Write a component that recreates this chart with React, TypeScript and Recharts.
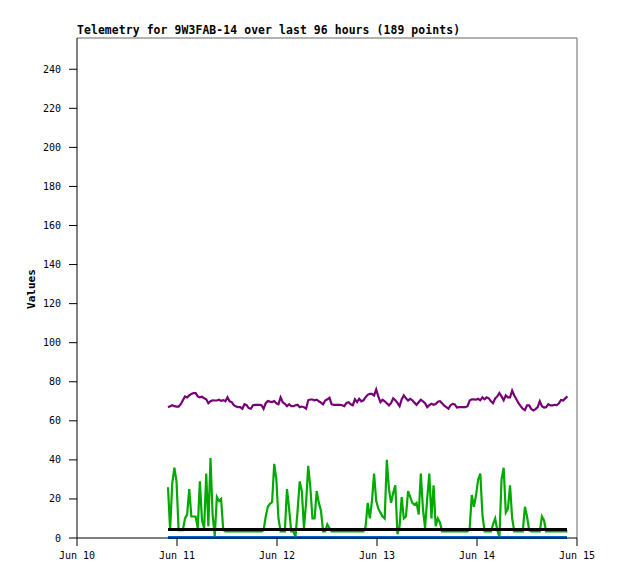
import React from 'react';
import { LineChart, Line, XAxis, YAxis, ReferenceLine } from 'recharts';

// time axis, in days after Jun 10 00:00
const dayTicks = [0, 1, 2, 3, 4, 5];
const dayLabels = ['Jun 10', 'Jun 11', 'Jun 12', 'Jun 13', 'Jun 14', 'Jun 15'];
const valueTicks = [0, 20, 40, 60, 80, 100, 120, 140, 160, 180, 200, 220, 240];
const firstSample = 0.91;
const lastSample = 4.904;

const purpleValues = [
  67.0, 67.5, 68.0, 67.5, 67.3, 67.3, 68.5, 70.5, 72.5, 72.0,
  73.0, 73.8, 74.2, 74.2, 72.5, 72.0, 72.3, 71.5, 71.0, 69.0,
  70.0, 70.5, 70.4, 70.4, 70.8, 70.2, 70.6, 70.0, 72.0, 70.0,
  69.6, 68.0, 67.3, 67.0, 67.0, 66.2, 68.5, 68.0, 66.5, 66.2,
  68.0, 68.2, 68.2, 68.2, 68.0, 66.2, 69.0, 70.1, 69.8, 69.6,
  70.1, 69.0, 68.5, 72.0, 69.5, 68.7, 67.5, 68.5, 67.5, 67.5,
  68.0, 68.2, 67.0,
  67.3, 67.0, 66.2, 70.5, 70.9, 70.9, 70.5, 70.8, 70.0, 69.3,
  68.4, 70.4, 71.0, 71.8, 68.5, 68.2, 68.2, 68.2, 68.2, 68.0,
  67.5, 69.2, 69.5, 68.5, 68.0, 71.0, 69.6, 71.3, 70.0, 70.5,
  72.1, 73.3, 73.8, 73.8, 73.0, 76.0, 72.5, 69.6, 70.8, 70.0,
  69.0, 67.9, 69.0, 71.5, 70.5, 69.2, 67.5, 71.0, 73.0, 71.5,
  70.4, 71.2, 70.5, 69.3, 68.2, 69.5, 70.8, 70.0, 69.0, 67.0,
  68.0, 68.7, 68.2,
  68.6, 69.8, 70.0, 69.0, 67.8, 67.0, 66.2, 68.0, 68.7, 68.4,
  66.8, 67.0, 67.0, 67.0, 67.0, 67.5, 70.4, 71.0, 71.0, 70.8,
  71.3, 70.5, 72.0, 71.0, 72.0, 71.5, 70.0, 69.0, 71.5, 72.5,
  74.2, 72.5, 70.5, 73.0, 72.0, 72.0, 75.5, 73.0, 71.0, 69.0,
  67.5, 66.2, 65.5, 67.9, 67.9, 66.0, 65.3, 66.0, 67.0, 70.0,
  67.5, 66.8, 67.0, 68.5, 67.9, 67.9, 68.2, 68.0, 69.0, 70.7,
  70.4, 71.5, 72.5,
];

const greenValues = [
  26, 4, 28, 36, 29, 4, 4, 4, 10, 12,
  25, 11, 11, 11, 5, 29, 9, 5, 33, 6,
  41, 12, 1, 21, 19, 20, 4, 3.4, 3.4, 3.4,
  3.4, 3.4, 3.4, 3.4, 3.4, 3.4, 3.4, 3.4, 3.4, 3.4,
  3.4, 3.4, 3.4, 3.4, 3.4, 4, 11, 16, 17.5, 18.4,
  38, 30, 10, 3.4, 3.4, 3.4, 25, 15, 3.4, 3.4,
  0.5, 14, 29,
  24, 5, 18, 37, 26, 10, 10, 24, 18, 14,
  3.4, 3.4, 7, 5, 3.4, 3.4, 3.4, 3.4, 3.4, 3.4,
  3.4, 3.4, 3.4, 3.4, 3.4, 3.4, 3.4, 3.4, 3.4, 3.4,
  5.6, 18, 10, 19, 33, 19, 15, 13, 11, 10,
  40, 25, 18, 23, 27, 2, 6, 21, 10, 11,
  24, 21, 18, 17, 18, 12, 33, 15, 5, 20,
  33, 10, 27,
  6, 10, 8, 3.4, 3.4, 3.4, 3.4, 3.4, 3.4, 3.4,
  3.4, 3.4, 3.4, 3.4, 3.4, 3.4, 5, 22, 16, 22,
  30, 33, 12, 3.4, 3.4, 3.4, 3.4, 7, 10, 4,
  0.5, 30, 36, 13, 15, 27, 10, 3.4, 3.4, 3.4,
  3.4, 3.4, 16, 11, 4, 3.4, 3.4, 3.4, 3.4, 3.4,
  11, 9, 3.4, 3.4, 3.4, 3.4, 3.4, 3.4, 3.4, 3.4,
  3.4, 3.4, 3.4,
];

const blackValues = [
  4.4, 4.4, 4.4, 4.4, 4.4, 4.4, 4.4, 4.4, 4.4, 4.4, 4.4, 4.4, 4.4, 4.4, 4.4, 4.4, 4.4, 4.4, 4.4, 4.4,
  4.4, 4.4, 4.4, 4.4, 4.4, 4.4, 4.4, 4.4, 4.4, 4.4, 4.4, 4.4, 4.4, 4.4, 4.4, 4.4, 4.4, 4.4, 4.4, 4.4,
  4.4, 4.4, 4.4, 4.4, 4.4, 4.4, 4.4, 4.4, 4.4, 4.4, 4.4, 4.4, 4.4, 4.4, 4.4, 4.4, 4.4, 4.4, 4.4, 4.4,
  4.4, 4.4, 4.4, 4.4, 4.4, 4.4, 4.4, 4.4, 4.4, 4.4, 4.4, 4.4, 4.4, 4.4, 4.4, 4.4, 4.4, 4.4, 4.4, 4.4,
  4.4, 4.4, 4.4, 4.4, 4.4, 4.4, 4.4, 4.4, 4.4, 4.4, 4.4, 4.4, 4.4, 4.4, 4.4, 4.4, 4.4, 4.4, 4.4, 4.4,
  4.4, 4.4, 4.4, 4.4, 4.4, 4.4, 4.4, 4.4, 4.4, 4.4, 4.4, 4.4, 4.4, 4.4, 4.4, 4.4, 4.4, 4.4, 4.4, 4.4,
  4.4, 4.4, 4.4, 4.4, 4.4, 4.4, 4.4, 4.4, 4.4, 4.4, 4.4, 4.4, 4.4, 4.4, 4.4, 4.4, 4.4, 4.4, 4.4, 4.4,
  4.4, 4.4, 4.4, 4.4, 4.4, 4.4, 4.4, 4.4, 4.4, 4.4, 4.4, 4.4, 4.4, 4.4, 4.4, 4.4, 4.4, 4.4, 4.4, 4.4,
  4.4, 4.4, 4.4, 4.4, 4.4, 4.4, 4.4, 4.4, 4.4, 4.4, 4.4, 4.4, 4.4, 4.4, 4.4, 4.4, 4.4, 4.4, 4.4, 4.4,
  4.4, 4.4, 4.4, 4.4, 4.4, 4.4, 4.4, 4.4, 4.4,
];

const blueValues = [
  0.3, 0.3, 0.3, 0.3, 0.3, 0.3, 0.3, 0.3, 0.3, 0.3, 0.3, 0.3, 0.3, 0.3, 0.3, 0.3, 0.3, 0.3, 0.3, 0.3,
  0.3, 0.3, 0.3, 0.3, 0.3, 0.3, 0.3, 0.3, 0.3, 0.3, 0.3, 0.3, 0.3, 0.3, 0.3, 0.3, 0.3, 0.3, 0.3, 0.3,
  0.3, 0.3, 0.3, 0.3, 0.3, 0.3, 0.3, 0.3, 0.3, 0.3, 0.3, 0.3, 0.3, 0.3, 0.3, 0.3, 0.3, 0.3, 0.3, 0.3,
  0.3, 0.3, 0.3, 0.3, 0.3, 0.3, 0.3, 0.3, 0.3, 0.3, 0.3, 0.3, 0.3, 0.3, 0.3, 0.3, 0.3, 0.3, 0.3, 0.3,
  0.3, 0.3, 0.3, 0.3, 0.3, 0.3, 0.3, 0.3, 0.3, 0.3, 0.3, 0.3, 0.3, 0.3, 0.3, 0.3, 0.3, 0.3, 0.3, 0.3,
  0.3, 0.3, 0.3, 0.3, 0.3, 0.3, 0.3, 0.3, 0.3, 0.3, 0.3, 0.3, 0.3, 0.3, 0.3, 0.3, 0.3, 0.3, 0.3, 0.3,
  0.3, 0.3, 0.3, 0.3, 0.3, 0.3, 0.3, 0.3, 0.3, 0.3, 0.3, 0.3, 0.3, 0.3, 0.3, 0.3, 0.3, 0.3, 0.3, 0.3,
  0.3, 0.3, 0.3, 0.3, 0.3, 0.3, 0.3, 0.3, 0.3, 0.3, 0.3, 0.3, 0.3, 0.3, 0.3, 0.3, 0.3, 0.3, 0.3, 0.3,
  0.3, 0.3, 0.3, 0.3, 0.3, 0.3, 0.3, 0.3, 0.3, 0.3, 0.3, 0.3, 0.3, 0.3, 0.3, 0.3, 0.3, 0.3, 0.3, 0.3,
  0.3, 0.3, 0.3, 0.3, 0.3, 0.3, 0.3, 0.3, 0.3,
];

// samples are evenly spaced over the 96 hour window
const rows = purpleValues.map((v, i) => ({
  t: firstSample + (i * (lastSample - firstSample)) / (purpleValues.length - 1),
  purple: v,
  green: greenValues[i],
  black: blackValues[i],
  blue: blueValues[i],
}));

const tickFont = { fill: '#000', fontSize: 10, fontFamily: 'DejaVu Sans Mono' };

export default function App() {
  return (
    <div style={{ position: 'absolute', left: 0, top: 0 }}>
      <LineChart
        width={618}
        height={579}
        data={rows}
        margin={{ top: 38, right: 41, bottom: 11, left: 17 }}
        style={{ background: '#fff' }}
      >
        <XAxis
          dataKey="t"
          type="number"
          domain={[0, 5]}
          ticks={dayTicks}
          interval={0}
          tickFormatter={(v) => dayLabels[v]}
          height={30}
          tickSize={8}
          tickMargin={6}
          stroke="#000"
          tick={tickFont}
        />
        <YAxis
          type="number"
          domain={[0, 256]}
          ticks={valueTicks}
          interval={0}
          width={60}
          tickSize={8}
          tickMargin={8}
          stroke="#000"
          tick={tickFont}
        />
        <ReferenceLine y={256} stroke="#666" />
        <ReferenceLine x={5} stroke="#666" />
        <Line type="linear" dataKey="purple" stroke="#770077" strokeWidth={2.2} dot={false} isAnimationActive={false} />
        <Line type="linear" dataKey="green" stroke="#00aa00" strokeWidth={2.2} dot={false} isAnimationActive={false} />
        <Line type="linear" dataKey="black" stroke="#000" strokeWidth={3} dot={false} isAnimationActive={false} shapeRendering="crispEdges" />
        <Line type="linear" dataKey="blue" stroke="#0066cc" strokeWidth={2.5} dot={false} isAnimationActive={false} shapeRendering="crispEdges" />
        <text
          x={77}
          y={34}
          fontFamily="DejaVu Sans Mono"
          fontWeight="bold"
          fontSize={11.4}
          textLength={383}
          lengthAdjust="spacing"
          fill="#000"
        >
          Telemetry for 9W3FAB-14 over last 96 hours (189 points)
        </text>
        <text
          transform="translate(35, 289) rotate(-90)"
          textAnchor="middle"
          fontFamily="DejaVu Sans Mono"
          fontWeight="bold"
          fontSize={11}
          fill="#000"
        >
          Values
        </text>
      </LineChart>
    </div>
  );
}
